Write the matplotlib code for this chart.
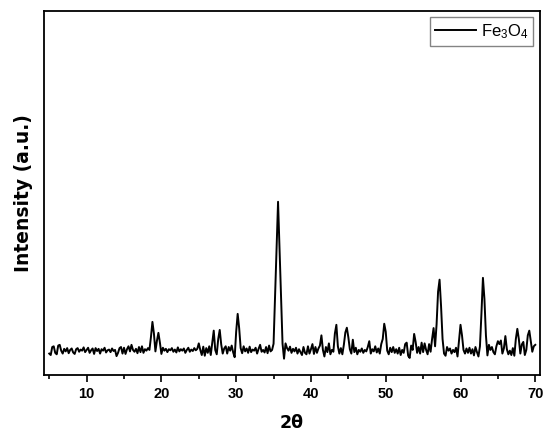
import numpy as np
import matplotlib
matplotlib.use("Agg")
import matplotlib.pyplot as plt
from matplotlib.ticker import MultipleLocator

# XRD scan: 2theta from 5.0 to 70.0 in 0.2 degree steps
two_theta_start = 5.0
two_theta_step = 0.2
intensity = [
    # 5
    5.0, 4.6, 6.8, 7.0, 5.2,
    4.8, 7.2, 7.4, 5.8, 5.0,
    6.3, 5.6, 6.5, 5.1, 6.0,
    6.4, 5.3, 4.9, 6.2, 6.5,
    5.5, 6.1, 5.8, 6.7, 5.4,
    # 10
    6.0, 6.6, 5.2, 5.9, 6.4,
    4.9, 6.5, 5.7, 6.3, 5.0,
    6.2, 5.8, 6.6, 5.3, 5.9,
    6.1, 5.4, 6.4, 5.7, 6.0,
    4.3, 5.2, 6.5, 6.8, 5.0,
    # 15
    6.6, 4.9, 6.2, 7.0, 5.6,
    7.4, 6.0, 5.5, 6.3, 5.1,
    6.8, 5.4, 7.0, 5.2, 6.2,
    5.8, 6.5, 6.0, 9.5, 13.7,
    10.5, 5.6, 8.5, 10.7, 8.0,
    # 20
    4.9, 6.6, 5.8, 6.3, 5.4,
    6.2, 5.9, 6.5, 5.5, 6.1,
    5.3, 6.7, 5.6, 6.2, 5.8,
    6.4, 5.2, 6.0, 6.6, 5.5,
    6.1, 5.7, 6.5, 5.9, 6.3,
    # 25
    7.8, 6.0, 4.6, 6.9, 4.4,
    6.5, 5.2, 7.0, 4.6, 8.0,
    11.3, 6.0, 4.8, 9.0, 11.5,
    7.5, 5.0, 6.4, 7.0, 5.0,
    6.8, 5.8, 7.2, 5.3, 4.0,
    # 30
    11.0, 15.9, 12.0, 6.5, 5.1,
    7.0, 5.6, 6.4, 5.2, 6.9,
    5.4, 6.1, 5.8, 6.6, 5.0,
    6.3, 7.4, 5.5, 6.0, 5.3,
    6.8, 5.1, 7.2, 5.6, 6.0,
    # 35
    7.7, 20.7, 33.7, 46.7, 33.7,
    20.7, 7.7, 3.6, 7.8, 6.5,
    5.8, 6.9, 5.2, 6.3, 5.6,
    6.6, 5.0, 6.2, 5.4, 4.6,
    6.8, 5.2, 4.8, 7.0, 5.0,
    # 40
    6.2, 7.6, 4.9, 6.8, 5.2,
    6.4, 7.2, 10.0, 6.0, 4.2,
    6.8, 5.4, 7.8, 4.8, 6.0,
    5.5, 10.5, 12.9, 7.0, 5.0,
    6.5, 4.8, 7.4, 10.8, 12.1,
    # 45
    9.5, 6.2, 5.0, 8.8, 5.4,
    6.6, 4.8, 6.0, 5.5, 6.4,
    5.2, 6.0, 5.6, 6.8, 8.4,
    5.0, 6.2, 5.6, 7.0, 5.3,
    6.4, 5.0, 7.6, 9.0, 13.2,
    # 50
    11.0, 5.8, 4.8, 6.6, 5.4,
    6.8, 5.2, 6.2, 5.0, 6.6,
    4.6, 6.0, 5.2, 7.6, 8.0,
    4.4, 3.8, 7.2, 6.0, 10.4,
    8.2, 5.2, 6.8, 5.0, 8.0,
    # 55
    5.4, 7.8, 6.0, 4.8, 7.6,
    5.5, 9.0, 12.0, 7.0, 13.0,
    22.0, 25.3, 18.0, 9.0, 5.0,
    4.4, 6.8, 5.8, 6.4, 5.0,
    6.0, 5.4, 6.6, 4.2, 8.5,
    # 60
    12.9, 10.0, 6.0, 5.0, 6.4,
    5.2, 6.6, 5.0, 6.2, 4.5,
    6.8, 5.4, 4.2, 7.0, 16.0,
    25.8, 20.0, 10.0, 4.5, 7.4,
    6.0, 6.8, 5.4, 4.8, 7.0,
    # 65
    8.4, 7.6, 8.6, 5.0, 6.4,
    9.8, 6.2, 4.8, 5.8, 4.6,
    6.5, 4.4, 9.0, 11.8, 9.0,
    5.0, 7.5, 8.2, 4.6, 6.0,
    10.0, 11.3, 8.5, 5.5, 7.0,
    7.4,
]
two_theta = two_theta_start + two_theta_step * np.arange(len(intensity))

x_ticks = [10, 20, 30, 40, 50, 60, 70]
series_label = r"Fe$_3$O$_4$"
x_label = "2θ"
y_label = "Intensity (a.u.)"

plt.rcParams['font.family'] = ['Liberation Sans', 'DejaVu Sans']
plt.rcParams['mathtext.fontset'] = 'custom'
plt.rcParams['mathtext.rm'] = 'Liberation Sans'
plt.rcParams['mathtext.it'] = 'Liberation Sans'
plt.rcParams['mathtext.default'] = 'regular'

fig = plt.figure(figsize=(5.5, 4.37), dpi=100)
ax = fig.add_axes([0.08, 0.1426, 0.9018, 0.833])

ax.plot(two_theta, intensity, color='black', linewidth=1.4, label=series_label)

ax.set_xlim(4.3, 70.63)
ax.set_ylim(-0.8, 99.2)
ax.set_xticks(x_ticks)
ax.xaxis.set_minor_locator(MultipleLocator(5))
ax.set_yticks([])
ax.tick_params(axis='x', which='major', direction='out', length=5, width=1.2, labelsize=10.5, pad=4)
ax.tick_params(axis='x', which='minor', direction='out', length=3, width=1.2)
for lbl in ax.get_xticklabels():
    lbl.set_fontweight('bold')
for sp in ax.spines.values():
    sp.set_linewidth(1.3)

ax.set_xlabel(x_label, fontsize=12.5, fontweight='bold', labelpad=9,
              family=['DejaVu Sans'])
ax.set_ylabel(y_label, fontsize=13.5, fontweight='bold', labelpad=8,
              family=['DejaVu Sans'])

leg = ax.legend(loc='upper right', fontsize=12, frameon=True, fancybox=False,
                edgecolor='#666666', handlelength=2.5, borderpad=0.3,
                handletextpad=0.25, borderaxespad=0.4)
leg.get_frame().set_linewidth(1.0)

fig.savefig("out.png", dpi=100)
